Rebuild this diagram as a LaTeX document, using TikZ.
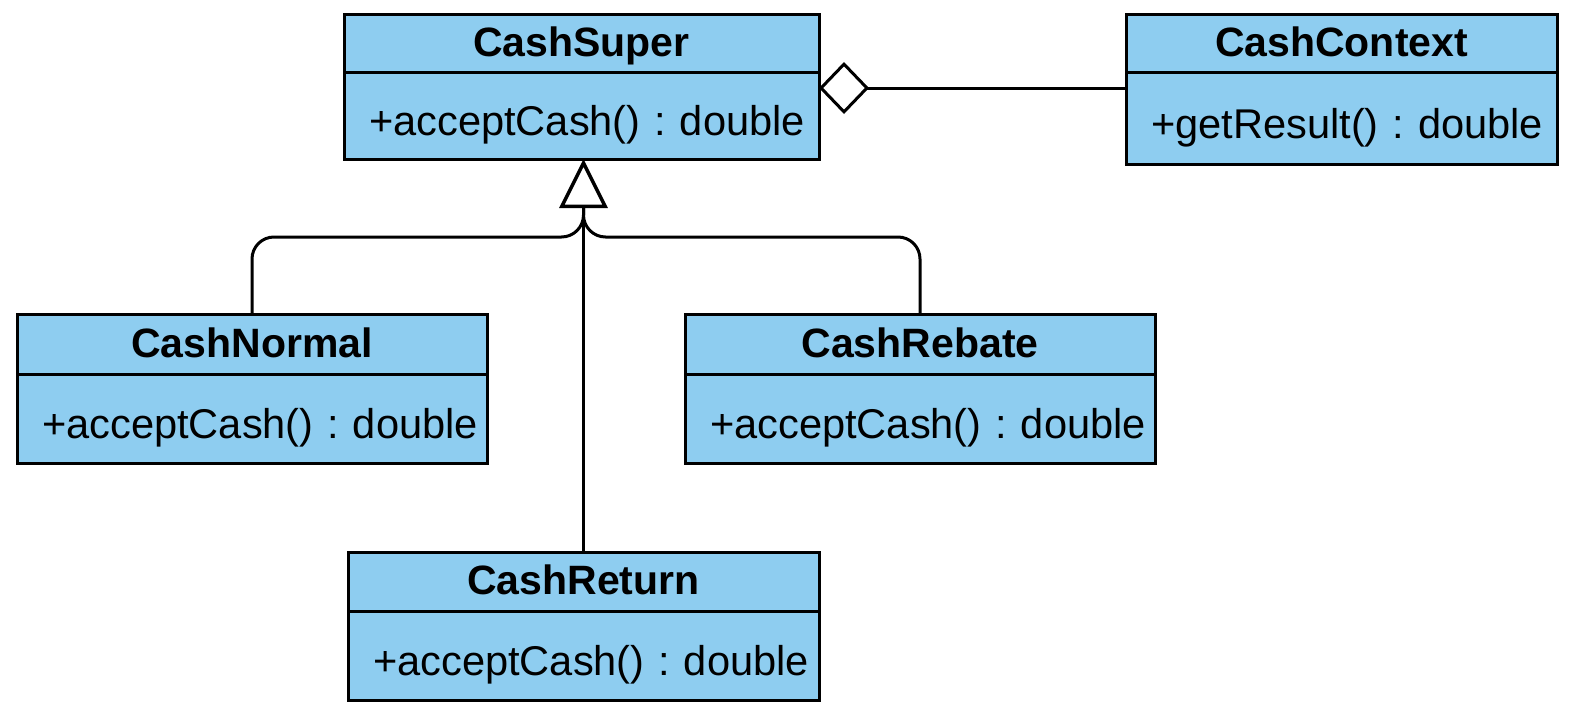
\documentclass[tikz,border=0pt]{standalone}
\usepackage{fontspec}
\setmainfont{Liberation Sans}
\usetikzlibrary{positioning,arrows.meta}
\definecolor{classblue}{RGB}{142,205,240}
\frenchspacing
\begin{document}
\begin{tikzpicture}[x=1pt,y=-1pt,
		classname/.style={draw,fill=classblue,line width=3pt,inner sep=0pt,outer sep=0pt,
			text height=31pt,text depth=5pt,font=\fontsize{41}{49}\selectfont\bfseries},
		classops/.style={draw,fill=classblue,line width=3pt,inner ysep=0pt,inner xsep=25pt,outer sep=0pt,
			align=left,text height=45pt,text depth=5pt,font=\fontsize{41.6}{50}\selectfont},
		link/.style={line width=3pt,rounded corners=22pt}]
	\useasboundingbox (0,0) rectangle (1572,720);
	\node(CashSuper)		[classname,minimum width=475pt,minimum height=58pt] at (581.5,43)	{CashSuper};
	\node(CashSuperOps)		[classops,text width=425pt,minimum height=87pt,below=0pt of CashSuper]	{\mbox{+acceptCash() : double}};
	\node(CashContext)		[classname,minimum width=431pt,minimum height=58pt] at (1341.5,43)	{CashContext};
	\node(CashContextOps)	[classops,text width=381pt,minimum height=92pt,below=0pt of CashContext]	{\mbox{+getResult() : double}};
	\node(CashNormal)		[classname,minimum width=470pt,minimum height=60pt] at (252,344)	{CashNormal};
	\node(CashNormalOps)	[classops,text width=420pt,minimum height=89pt,below=0pt of CashNormal]	{\mbox{+acceptCash() : double}};
	\node(CashRebate)		[classname,minimum width=470pt,minimum height=60pt] at (920,344)	{CashRebate};
	\node(CashRebateOps)	[classops,text width=420pt,minimum height=89pt,below=0pt of CashRebate]	{\mbox{+acceptCash() : double}};
	\node(CashReturn)		[classname,minimum width=471pt,minimum height=59pt] at (583.5,581.5)	{CashReturn};
	\node(CashReturnOps)	[classops,text width=421pt,minimum height=89pt,below=0pt of CashReturn]	{\mbox{+acceptCash() : double}};
	\coordinate(Fork) at (583.5,237);
	\coordinate(Base) at (583.5,205);
	\draw[link] (CashNormal.north) |- (Fork) -- (Base);
	\draw[link] (CashRebate.north) |- (Fork) -- (Base);
	\draw[link,-{Triangle[open,fill=white,length=49pt,width=48pt,line width=3.5pt]}] (CashReturn.north) -- (CashReturn.north |- CashSuperOps.south);
	\draw[link,-{Diamond[open,fill=white,length=50pt,width=52pt,line width=3pt]}] ([yshift=-16pt]CashContextOps.north west) -- ([yshift=-16pt]CashSuperOps.north east);
\end{tikzpicture}
\end{document}
